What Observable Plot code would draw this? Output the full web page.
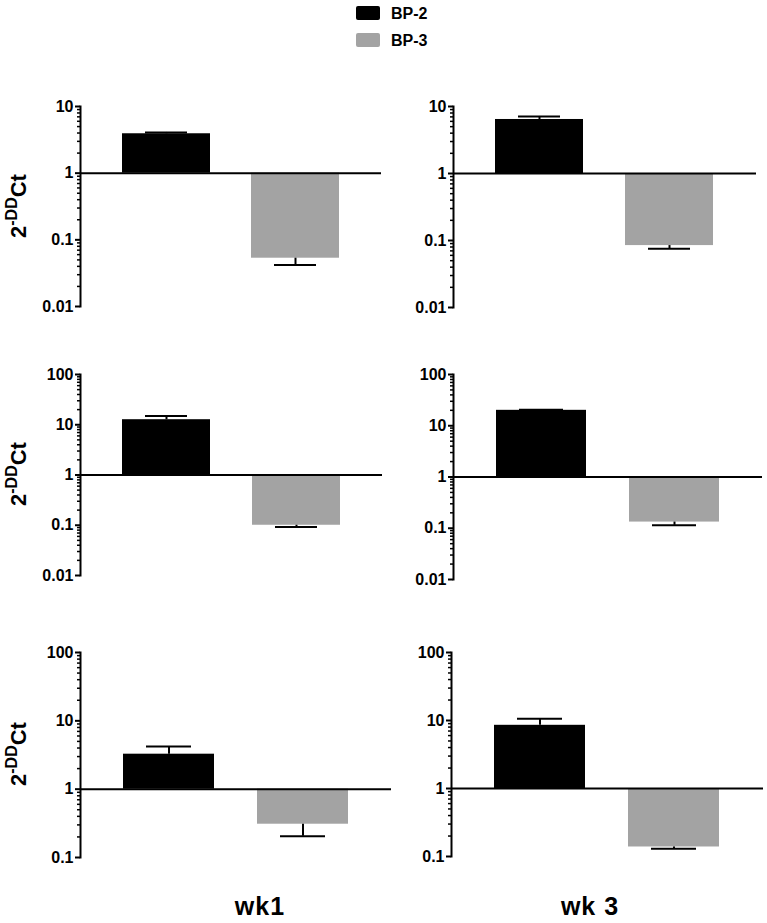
<!DOCTYPE html>
<html>
<head>
<meta charset="utf-8">
<script src="https://cdn.jsdelivr.net/npm/d3@7"></script>
<script src="https://cdn.jsdelivr.net/npm/@observablehq/plot@0.6"></script>
<style>
  body { margin: 0; background: #fff; }
  #wrap { position: relative; width: 767px; height: 923px; font-family: "Liberation Sans", Arial, sans-serif; color: #000; }
  .abs { position: absolute; white-space: nowrap; }
  .panel svg { background: transparent !important; overflow: visible; max-width: none; }
  .leg { font-size: 16px; font-weight: bold; line-height: 16px; }
  .sw { position: absolute; width: 24px; height: 14px; border-radius: 2px; }
  .ylab { font-size: 22px; font-weight: bold; line-height: 22px; transform: translate(-50%, -50%) rotate(-90deg); }
  .ylab sup { font-size: 16px; vertical-align: 9px; line-height: 0; }
  .col { font-size: 25px; font-weight: bold; line-height: 25px; letter-spacing: 1px; transform: translateX(-50%); }
</style>
</head>
<body>
<div id="wrap"></div>
<script>
// ---------- data ----------
const groups = ["BP-2", "BP-3"];
const groupColors = ["#000000", "#a3a3a3"];
const columnLabels = ["wk1", "wk 3"];
const yLabelBase = "2";
const yLabelSup = "-DD";
const yLabelTail = "Ct";

const row1Ticks = [0.01, 0.1, 1, 10];
const row2Ticks = [0.01, 0.1, 1, 10, 100];
const row3Ticks = [0.1, 1, 10, 100];

const wk1Row1Mean = [3.9, 0.053];
const wk1Row1ErrEnd = [4.08, 0.042];
const wk3Row1Mean = [6.4, 0.084];
const wk3Row1ErrEnd = [7.1, 0.075];

const wk1Row2Mean = [12.6, 0.1];
const wk1Row2ErrEnd = [14.9, 0.092];
const wk3Row2Mean = [20, 0.132];
const wk3Row2ErrEnd = [20.6, 0.114];

const wk1Row3Mean = [3.25, 0.307];
const wk1Row3ErrEnd = [4.2, 0.205];
const wk3Row3Mean = [8.5, 0.138];
const wk3Row3ErrEnd = [10.6, 0.13];

// ---------- layout ----------
const panels = [
  {mean: wk1Row1Mean, err: wk1Row1ErrEnd, ticks: row1Ticks, x0: 80, x1: 381, y0: 106, y1: 306, ml: 80, ylab: true},
  {mean: wk3Row1Mean, err: wk3Row1ErrEnd, ticks: row1Ticks, x0: 453, x1: 756, y0: 106, y1: 306.5, ml: 60},
  {mean: wk1Row2Mean, err: wk1Row2ErrEnd, ticks: row2Ticks, x0: 80, x1: 382, y0: 374, y1: 574.5, ml: 80, ylab: true},
  {mean: wk3Row2Mean, err: wk3Row2ErrEnd, ticks: row2Ticks, x0: 453, x1: 762, y0: 374, y1: 579, ml: 60},
  {mean: wk1Row3Mean, err: wk1Row3ErrEnd, ticks: row3Ticks, x0: 80, x1: 391, y0: 652, y1: 856.5, ml: 80, ylab: true},
  {mean: wk3Row3Mean, err: wk3Row3ErrEnd, ticks: row3Ticks, x0: 451, x1: 763, y0: 652, y1: 855.5, ml: 60}
];

const wrap = document.getElementById("wrap");

function minorTicks(majors) {
  const out = [];
  for (let i = 0; i < majors.length - 1; i++) {
    for (let m = 2; m <= 9; m++) out.push(+(majors[i] * m).toPrecision(3));
  }
  return out;
}

const MT = 20, MB = 20;
panels.forEach(p => {
  const data = groups.map((g, i) => ({group: g, mean: p.mean[i], err: p.err[i]}));
  const domain = [p.ticks[0], p.ticks[p.ticks.length - 1]];
  const width = Math.round(p.x1 - p.x0 + p.ml);
  const height = Math.round(p.y1 - p.y0 + MT + MB);
  const chart = Plot.plot({
    width, height,
    marginLeft: p.ml, marginRight: 0, marginTop: MT, marginBottom: MB,
    style: {fontFamily: "'Liberation Sans', Arial, sans-serif", background: "transparent", overflow: "visible"},
    x: {domain: groups, padding: 0.32, axis: null},
    y: {type: "log", domain, axis: null, label: null},
    color: {domain: groups, range: groupColors},
    marks: [
      Plot.barY(data, {x: "group", y1: () => 1, y2: "mean", fill: "group"}),
      Plot.ruleX(data, {x: "group", y1: "mean", y2: "err", stroke: "black", strokeWidth: 2}),
      Plot.tickY(data, {x: "group", y: "err", stroke: "black", strokeWidth: 2, inset: 23}),
      Plot.ruleY([1], {stroke: "black", strokeWidth: 2}),
      Plot.axisY({ticks: minorTicks(p.ticks), tickSize: 3, strokeWidth: 1.5, tickFormat: () => "", label: null}),
      Plot.axisY({ticks: p.ticks, tickSize: 5, tickPadding: 2, strokeWidth: 2, tickFormat: d => String(d),
                  fontSize: 16, fontWeight: "bold", label: null}),
      Plot.frame({anchor: "left", stroke: "black", strokeWidth: 2})
    ]
  });
  const div = document.createElement("div");
  div.className = "abs panel";
  div.style.left = (p.x0 - p.ml) + "px";
  div.style.top = (p.y0 - MT) + "px";
  div.appendChild(chart);
  wrap.appendChild(div);

  if (p.ylab) {
    const yl = document.createElement("div");
    yl.className = "abs ylab";
    yl.style.left = "19px";
    yl.style.top = ((p.y0 + p.y1) / 2) + "px";
    yl.innerHTML = `${yLabelBase}<sup>${yLabelSup}</sup>${yLabelTail}`;
    wrap.appendChild(yl);
  }
});

// legend
const legTops = [6, 33];
groups.forEach((g, i) => {
  const sw = document.createElement("div");
  sw.className = "sw";
  sw.style.left = "356px";
  sw.style.top = legTops[i] + "px";
  sw.style.background = groupColors[i];
  wrap.appendChild(sw);
  const t = document.createElement("div");
  t.className = "abs leg";
  t.style.left = "391px";
  t.style.top = (legTops[i] - 0.5) + "px";
  t.textContent = g;
  wrap.appendChild(t);
});

// column labels
const colCenters = [260, 590];
columnLabels.forEach((c, i) => {
  const d = document.createElement("div");
  d.className = "abs col";
  d.style.left = colCenters[i] + "px";
  d.style.top = "894px";
  d.textContent = c;
  wrap.appendChild(d);
});
</script>
</body>
</html>
